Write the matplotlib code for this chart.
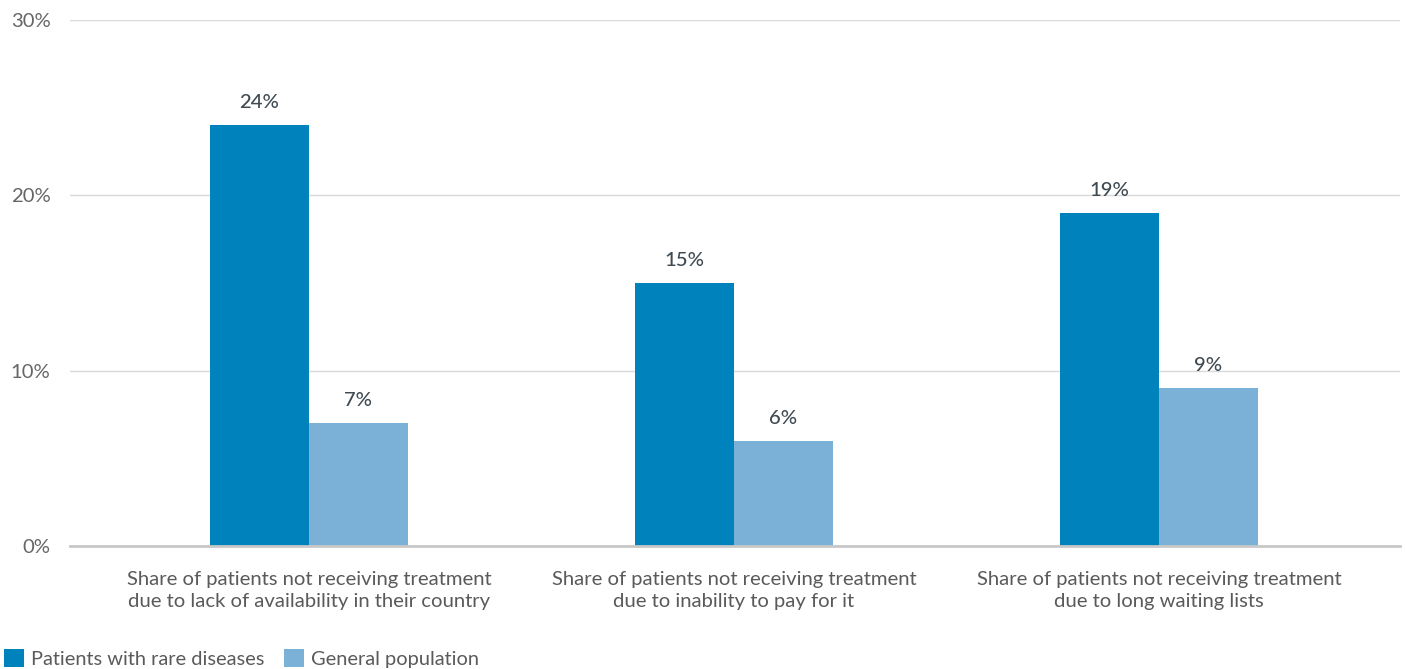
import matplotlib
import matplotlib.pyplot as plt
import numpy as np

matplotlib.use("Agg")

categories = [
    "Share of patients not receiving treatment\ndue to lack of availability in their country",
    "Share of patients not receiving treatment\ndue to inability to pay for it",
    "Share of patients not receiving treatment\ndue to long waiting lists",
]
rare = [24, 15, 19]
general = [7, 6, 9]
series_names = ["Patients with rare diseases", "General population"]
yticks = [0, 10, 20, 30]

DARK = "#0083BD"
LIGHT = "#7BB1D6"

plt.rcParams.update({
    "font.family": ["Lato", "DejaVu Sans"],
    "font.size": 14.6,
})

fig = plt.figure(figsize=(14.05, 6.69), dpi=100)
ax = fig.add_axes([70 / 1405, 1 - 546 / 669, 1330 / 1405, 526 / 669])

x = np.arange(len(categories))
w = 0.233
b1 = ax.bar(x - w / 2, rare, w, color=DARK, label=series_names[0], zorder=3)
b2 = ax.bar(x + w / 2, general, w, color=LIGHT, label=series_names[1], zorder=3)

for bars in (b1, b2):
    for bar in bars:
        h = bar.get_height()
        ax.annotate(f"{h:.0f}%", xy=(bar.get_x() + bar.get_width() / 2, h),
                    xytext=(0, 10), textcoords="offset points", ha="center", va="bottom",
                    fontsize=14.6, color="#3F4A52", fontweight="medium")

ax.set_xlim(-0.562, 2.567)
ax.set_ylim(0, 30)
ax.set_yticks(yticks)
ax.set_yticklabels([f"{t}%" for t in yticks], color="#666666")
ax.set_xticks(x)
ax.set_xticklabels(categories, color="#5A5A5A", linespacing=1.35)
ax.tick_params(axis="both", length=0, labelsize=14.6)
ax.tick_params(axis="y", pad=14)
ax.tick_params(axis="x", pad=18)

ax.grid(axis="y", color="#D9D9D9", linewidth=1, zorder=0)
ax.set_axisbelow(True)
for s in ["top", "right", "left"]:
    ax.spines[s].set_visible(False)
ax.spines["bottom"].set_color("#C8C8C8")
ax.spines["bottom"].set_linewidth(2)
ax.spines["bottom"].set_zorder(4)

fig.legend(loc="lower left", bbox_to_anchor=(0.0, -0.004), ncol=2, frameon=False,
           handlelength=1.0, handleheight=1.0, handletextpad=0.35, columnspacing=1.0,
           borderaxespad=0.2, borderpad=0.0, fontsize=14.4, labelcolor="#5A5A5A")

fig.savefig("out.png", dpi=100)
